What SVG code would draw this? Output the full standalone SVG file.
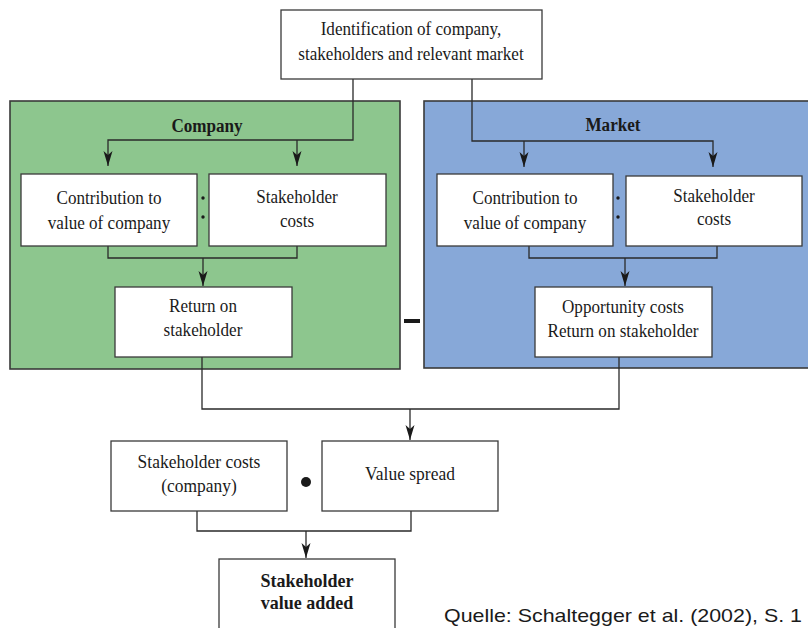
<svg xmlns="http://www.w3.org/2000/svg" width="808" height="628" viewBox="0 0 808 628">
  <style>
    .box { fill: #ffffff; stroke: #3a3a3a; stroke-width: 1.3; }
    .panel { stroke: #3a3a3a; stroke-width: 1.6; }
    .t { font-family: "Liberation Serif", "Times New Roman", "DejaVu Serif", serif; font-size: 19px; fill: #1a1a1a; text-anchor: middle; }
    .b { font-weight: bold; }
    .ln { fill: none; stroke: #2a2a2a; stroke-width: 1.3; }
    .dot { fill: #1a1a1a; }
  </style>
  <defs>
    <marker id="ah" markerWidth="10" markerHeight="15" refX="5" refY="15" orient="0" markerUnits="userSpaceOnUse" viewBox="0 0 10 15">
      <path d="M0.5,0 L5,4 L9.5,0 L5,15 Z" fill="#1a1a1a"/>
    </marker>
  </defs>

  <!-- background panels -->
  <rect id="company-panel" class="panel" x="10" y="101" width="390" height="268" fill="#8dc68e"/>
  <rect id="market-panel" class="panel" x="424" y="101" width="390" height="267" fill="#87a8d8"/>
  <text class="t b" transform="translate(207 132) scale(0.9 1)">Company</text>
  <text class="t b" transform="translate(613 131) scale(0.9 1)">Market</text>

  <!-- connectors -->
  <g id="connectors">
    <polyline class="ln" points="353,79 353,140 108,140 108,166" marker-end="url(#ah)"/>
    <polyline class="ln" points="297,140 297,166" marker-end="url(#ah)"/>
    <polyline class="ln" points="472,79 472,141 713,141 713,167" marker-end="url(#ah)"/>
    <polyline class="ln" points="524,141 524,167" marker-end="url(#ah)"/>
    <polyline class="ln" points="108,246 108,258 297,258 297,246"/>
    <polyline class="ln" points="203,258 203,286" marker-end="url(#ah)"/>
    <polyline class="ln" points="529,246 529,258 717,258 717,246"/>
    <polyline class="ln" points="625,258 625,286" marker-end="url(#ah)"/>
    <polyline class="ln" points="202,357 202,409 619,409 619,357"/>
    <polyline class="ln" points="410,409 410,440" marker-end="url(#ah)"/>
    <polyline class="ln" points="197,511 197,531 411,531 411,511"/>
    <polyline class="ln" points="306,531 306,558" marker-end="url(#ah)"/>
  </g>

  <!-- nodes -->
  <g id="identification">
    <rect class="box" x="281" y="10" width="261" height="69"/>
    <text class="t" transform="translate(411 35) scale(0.9 1)">Identification of company,</text>
    <text class="t" transform="translate(411 60) scale(0.9 1)">stakeholders and relevant market</text>
  </g>

  <g id="company-contribution">
    <rect class="box" x="21" y="174" width="176" height="72"/>
    <text class="t" transform="translate(109 204) scale(0.9 1)">Contribution to</text>
    <text class="t" transform="translate(109 229) scale(0.9 1)">value of company</text>
  </g>
  <g id="company-dots">
    <circle class="dot" cx="203" cy="198" r="1.7"/>
    <circle class="dot" cx="203" cy="217" r="1.7"/>
  </g>
  <g id="company-costs">
    <rect class="box" x="209" y="174" width="177" height="72"/>
    <text class="t" transform="translate(297 203) scale(0.9 1)">Stakeholder</text>
    <text class="t" transform="translate(297 227) scale(0.9 1)">costs</text>
  </g>
  <g id="company-return">
    <rect class="box" x="115" y="287" width="177" height="70"/>
    <text class="t" transform="translate(203 312) scale(0.9 1)">Return on</text>
    <text class="t" transform="translate(203 336) scale(0.9 1)">stakeholder</text>
  </g>

  <g id="minus">
    <rect x="404" y="319" width="16" height="4" fill="#1a1a1a"/>
  </g>

  <g id="market-contribution">
    <rect class="box" x="437" y="174" width="176" height="72"/>
    <text class="t" transform="translate(525 204) scale(0.9 1)">Contribution to</text>
    <text class="t" transform="translate(525 229) scale(0.9 1)">value of company</text>
  </g>
  <g id="market-dots">
    <circle class="dot" cx="618" cy="198" r="1.7"/>
    <circle class="dot" cx="618" cy="217" r="1.7"/>
  </g>
  <g id="market-costs">
    <rect class="box" x="626" y="176" width="176" height="70"/>
    <text class="t" transform="translate(714 202) scale(0.9 1)">Stakeholder</text>
    <text class="t" transform="translate(714 225) scale(0.9 1)">costs</text>
  </g>
  <g id="market-return">
    <rect class="box" x="535" y="287" width="177" height="70"/>
    <text class="t" transform="translate(623 313) scale(0.9 1)">Opportunity costs</text>
    <text class="t" transform="translate(623 337) scale(0.9 1)">Return on stakeholder</text>
  </g>

  <g id="stakeholder-costs">
    <rect class="box" x="111" y="441" width="176" height="70"/>
    <text class="t" transform="translate(199 468) scale(0.92 1)">Stakeholder costs</text>
    <text class="t" transform="translate(199 492) scale(0.92 1)">(company)</text>
  </g>
  <g id="times-dot">
    <circle class="dot" cx="306" cy="482" r="5"/>
  </g>
  <g id="value-spread">
    <rect class="box" x="322" y="441" width="176" height="70"/>
    <text class="t" transform="translate(410 480) scale(0.92 1)">Value spread</text>
  </g>

  <g id="value-added">
    <rect class="box" x="219" y="559" width="176" height="80"/>
    <text class="t b" transform="translate(307 587) scale(0.95 1)">Stakeholder</text>
    <text class="t b" transform="translate(307 609) scale(0.95 1)">value added</text>
  </g>

  <!-- source line -->
  <text x="444" y="622" font-family="Liberation Sans, Arial, sans-serif" font-size="19" fill="#1a1a1a" textLength="358" lengthAdjust="spacingAndGlyphs">Quelle: Schaltegger et al. (2002), S. 1</text>
</svg>
